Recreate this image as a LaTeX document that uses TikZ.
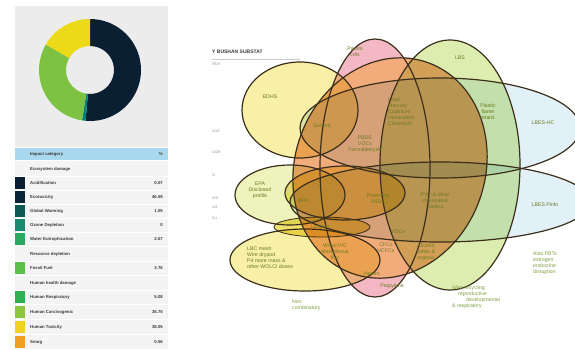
\documentclass[tikz,border=0pt]{standalone}
\usepackage{fontspec}
\setmainfont{Liberation Sans}
\definecolor{navy}{HTML}{0B1F33}
\definecolor{dgreen}{HTML}{7DC242}
\definecolor{dyell}{HTML}{ECD917}
\definecolor{panel}{HTML}{ECECEC}
\definecolor{hdr}{HTML}{A9D9EE}
\definecolor{tabc}{HTML}{3A3A3A}
\definecolor{labc}{HTML}{6B7A20}
\definecolor{outc}{HTML}{7FA040}
\definecolor{edge}{HTML}{3B2F1C}
\definecolor{cblue}{HTML}{E2F0F8}
\definecolor{cgreen}{HTML}{DDEDB0}
\definecolor{corange}{HTML}{F2AC7C}
\definecolor{cpink}{HTML}{F4B8C4}
\definecolor{cyell}{HTML}{F7F0A6}
\definecolor{cepa}{HTML}{EEF3BC}
\definecolor{cpref}{HTML}{F3E48A}
\definecolor{cband}{HTML}{F0E070}
\begin{document}
\begin{tikzpicture}[x=1pt,y=-1pt,
  tab/.style={font=\fontsize{4.3}{5}\selectfont\bfseries, text=tabc, anchor=west, inner sep=0pt},
  val/.style={font=\fontsize{4.3}{5}\selectfont\bfseries, text=tabc, anchor=east, inner sep=0pt},
  lab/.style={font=\fontsize{5.2}{6}\selectfont, text=labc, align=center, inner sep=0pt},
  labl/.style={font=\fontsize{5.2}{6}\selectfont, text=labc, align=left, anchor=west, inner sep=0pt},
  outl/.style={font=\fontsize{5.2}{6.2}\selectfont, text=outc, align=left, anchor=west, inner sep=0pt},
  frag/.style={font=\fontsize{4.5}{5}\selectfont, text=gray!70, anchor=west, inner sep=0pt},
  venn/.style={draw=edge, line width=1.2pt},
  sw/.style={minimum width=10pt, minimum height=12pt, inner sep=0pt, anchor=west},
  orot/.style={rotate around={-20:(390,168)}}]
\useasboundingbox (0,0) rectangle (575,349);
\fill[white] (0,0) rectangle (575,349);
% ---------- left panel ----------
\fill[panel] (15,6) rectangle (168,147);
\begin{scope}[shift={(90,70)}]
  \fill[navy] (90:51pt) arc[start angle=90, end angle=-95, radius=51pt] -- (-95:24pt) arc[start angle=-95, end angle=90, radius=24pt] -- cycle;
  \fill[teal] (-95:51pt) arc[start angle=-95, end angle=-99, radius=51pt] -- (-99:24pt) arc[start angle=-99, end angle=-95, radius=24pt] -- cycle;
  \fill[dgreen] (-99:51pt) arc[start angle=-99, end angle=-210, radius=51pt] -- (-210:24pt) arc[start angle=-210, end angle=-99, radius=24pt] -- cycle;
  \fill[dyell] (-210:51pt) arc[start angle=-210, end angle=-270, radius=51pt] -- (-270:24pt) arc[start angle=-270, end angle=-210, radius=24pt] -- cycle;
\end{scope}
\fill[hdr] (15,148) rectangle (168,160);
\fill[panel!60] (15,161) rectangle (168,349);
\foreach \yy in {176,190,204,218,232,246,261,275,290,304,319,334}
  \draw[white, line width=0.8pt] (15,\yy) -- (168,\yy);
\node[tab] (h1) at (30,154) {Impact category};
\node[val] (h2) at (163,154) {\%};
\node[tab] (s1) at (30,169) {Ecosystem damage};
\node[sw, fill=navy] (c1) at (15,183) {};
\node[tab] (t1) at (30,183) {Acidification};   \node[val] (v1) at (163,183) {0.07};
\node[sw, fill=navy!95!teal] (c2) at (15,197) {};
\node[tab] (t2) at (30,197) {Ecotoxicity};     \node[val] (v2) at (163,197) {46.59};
\node[sw, fill={rgb,255:red,13;green,90;blue,85}] (c3) at (15,211) {};
\node[tab] (t3) at (30,211) {Global Warming};  \node[val] (v3) at (163,211) {1.05};
\node[sw, fill={rgb,255:red,26;green,138;blue,112}] (c4) at (15,225) {};
\node[tab] (t4) at (30,225) {Ozone Depletion}; \node[val] (v4) at (163,225) {0};
\node[sw, fill={rgb,255:red,42;green,168;blue,96}] (c5) at (15,239) {};
\node[tab] (t5) at (30,239) {Water Eutrophication}; \node[val] (v5) at (163,239) {2.67};
\node[tab] (s2) at (30,254) {Resource depletion};
\node[sw, fill={rgb,255:red,92;green,191;blue,74}] (c6) at (15,268) {};
\node[tab] (t6) at (30,268) {Fossil Fuel};     \node[val] (v6) at (163,268) {3.76};
\node[tab] (s3) at (30,283) {Human health damage};
\node[sw, fill={rgb,255:red,47;green,176;blue,80}] (c7) at (15,297) {};
\node[tab] (t7) at (30,297) {Human Respiratory}; \node[val] (v7) at (163,297) {5.08};
\node[sw, fill={rgb,255:red,140;green,198;blue,63}] (c8) at (15,312) {};
\node[tab] (t8) at (30,312) {Human Carcinogenic}; \node[val] (v8) at (163,312) {36.75};
\node[sw, fill={rgb,255:red,240;green,208;blue,32}] (c9) at (15,327) {};
\node[tab] (t9) at (30,327) {Human Toxicity};  \node[val] (v9) at (163,327) {38.05};
\node[sw, fill={rgb,255:red,240;green,160;blue,32}] (c10) at (15,342) {};
\node[tab] (t10) at (30,342) {Smog};           \node[val] (v10) at (163,342) {0.56};
% ---------- Venn ----------
\fill[cpink] (375,168) ellipse [x radius=55pt, y radius=129pt];
\fill[corange, orot] (390,168) ellipse [x radius=95pt, y radius=112pt];
\begin{scope}[blend mode=multiply]
  \fill[cblue] (440,128) ellipse [x radius=140pt, y radius=50pt];
  \fill[cblue] (440,202) ellipse [x radius=150pt, y radius=40pt];
  \fill[cgreen] (450,165) ellipse [x radius=70pt, y radius=125pt];
  \fill[cyell] (300,110) ellipse [x radius=58pt, y radius=48pt];
  \fill[cepa] (290,195) ellipse [x radius=55pt, y radius=30pt];
  \fill[cpref] (345,193) ellipse [x radius=60pt, y radius=27pt];
  \fill[cyell] (305,260) ellipse [x radius=75pt, y radius=31pt];
  \fill[cband] (322,227) ellipse [x radius=48pt, y radius=10pt];
\end{scope}
\draw[venn] (440,128) ellipse [x radius=140pt, y radius=50pt];
\draw[venn] (440,202) ellipse [x radius=150pt, y radius=40pt];
\draw[venn] (450,165) ellipse [x radius=70pt, y radius=125pt];
\draw[venn, orot] (390,168) ellipse [x radius=95pt, y radius=112pt];
\draw[venn] (375,168) ellipse [x radius=55pt, y radius=129pt];
\draw[venn] (300,110) ellipse [x radius=58pt, y radius=48pt];
\draw[venn] (290,195) ellipse [x radius=55pt, y radius=30pt];
\draw[venn] (345,193) ellipse [x radius=60pt, y radius=27pt];
\draw[venn] (305,260) ellipse [x radius=75pt, y radius=31pt];
\draw[venn, line width=0.8pt] (322,227) ellipse [x radius=48pt, y radius=10pt];
% labels inside
\node[lab] (edhs) at (270,97) {EDHS};
\node[lab] (par) at (355,52) {Pareto\\crits};
\node[lab] (lbs) at (460,58) {LBS};
\node[lab] (pfr) at (488,112) {Plastic\\flame\\retard.};
\node[lab] (lbhc) at (543,123) {LBES-HC};
\node[labl] (metal) at (388,112) {Lead\\Mercury\\Cadmium\\Hexavalent\\Chromium};
\node[lab] (solv) at (322,126) {Solvent};
\node[lab] (pbde) at (365,144) {PBDE\\VOCs\\Formaldehyde};
\node[lab] (epa) at (260,190) {EPA\\Disclosed\\profile};
\node[lab] (bpa) at (303,201) {BPA};
\node[lab] (pref) at (378,199) {Preferred\\PBDE};
\node[lab] (pvc) at (435,201) {PVC \& other\\chlorinated\\plastics};
\node[lab] (lbpf) at (545,205) {LBES Pinfo};
\node[lab] (long) at (320,227) {Longstn};
\node[lab] (vocs) at (398,232) {VOCs};
\node[lab] (wood) at (335,252) {Wood P/C\\phosphorus\\flux};
\node[lab] (cfc) at (386,248) {CFCs\\HCFCs};
\node[lab] (alc) at (426,252) {Alcohol\\solids \&\\organic};
\node[lab] (het) at (372,274) {Hetero};
\node[lab] (prop) at (392,286) {Propylene};
\node[labl] (lbc) at (247,258) {LBC mesh\\Wire drypod\\P4 more mass \&\\other WOLCI doses};
% outside texts
\node[font=\fontsize{5}{6}\selectfont\bfseries, text=tabc, anchor=west, inner sep=0pt] (ttl) at (212,52) {Y BUSHAN SUBSTAT};
\draw[gray!40, line width=0.5pt] (212,59) -- (300,59);
\node[frag] (f1) at (212,64) {Hbn};
\node[frag] (f2) at (212,131) {and};
\node[frag] (f3) at (212,152) {uide};
\node[frag] (f4) at (212,175) {is};
\node[frag] (f5) at (212,198) {are};
\node[frag] (f6) at (212,207) {ad};
\node[frag] (f7) at (212,218) {su};
\node[outl] (non) at (292,305) {Non\\combinatory};
\node[outl] (wen) at (452,297) {Wen recycling\\\hspace*{6pt}reproductive\\\hspace*{14pt}developmental\\\& respiratory};
\node[outl] (also) at (533,263) {Also PBTs\\estrogen\\endocrine\\disruption};
\end{tikzpicture}
\end{document}
